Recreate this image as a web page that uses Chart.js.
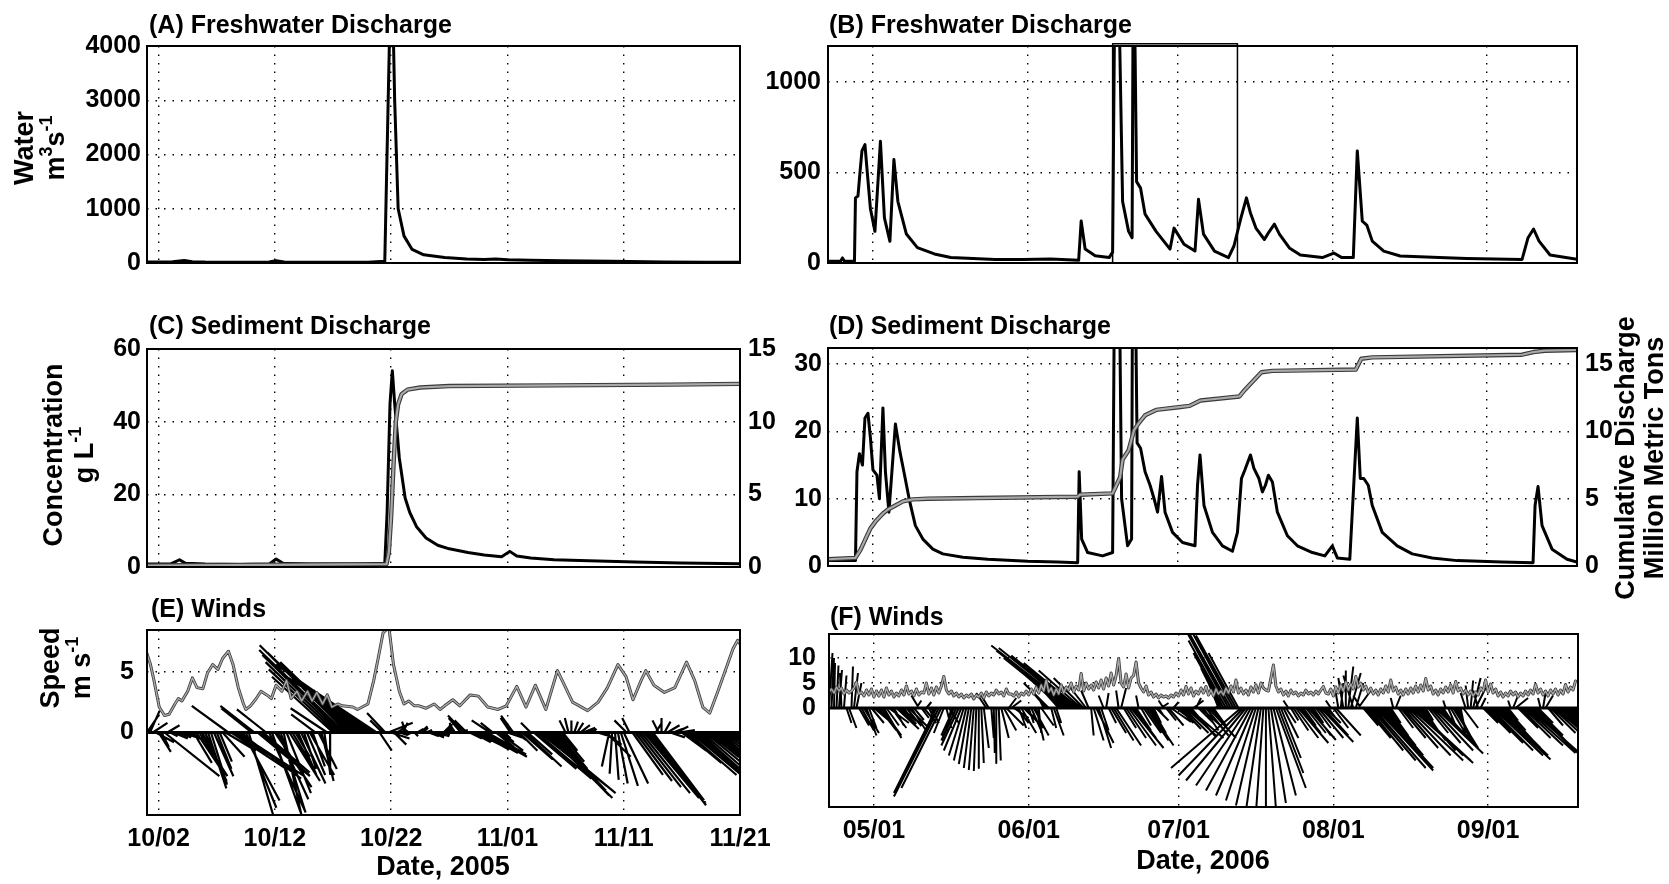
<!DOCTYPE html>
<html>
<head>
<meta charset="utf-8">
<title>Freshwater discharge, sediment discharge and winds</title>
<script src="https://cdn.jsdelivr.net/npm/chart.js@4.4.1/dist/chart.umd.min.js"></script>
<style>
  html, body { margin: 0; padding: 0; background: #fff; }
  #fig { position: relative; width: 1669px; height: 884px; overflow: hidden; background: #fff; }
  #fig canvas { position: absolute; left: 0; top: 0; }
</style>
</head>
<body>
<div id="fig"></div>
<script>
// ---- tick labels ----
const ticks05 = ['10/02', '10/12', '10/22', '11/01', '11/11', '11/21'];
const ticks06 = ['05/01', '06/01', '07/01', '08/01', '09/01'];
const flowTicks05 = [0, 1000, 2000, 3000, 4000];
const flowTicks06 = [0, 500, 1000];
const concTicks05 = [0, 20, 40, 60];
const concTicks06 = [0, 10, 20, 30];
const cumTicks = [0, 5, 10, 15];
const speedTicks05 = [0, 5];
const speedTicks06 = [0, 5, 10];

// x values are days since 2005-10-01 (left column) or 2006-04-22 (right column)

// (A) freshwater discharge 2005, m3/s
const aDay  = [0, 1, 2.2, 3.2, 3.9, 5, 8, 10.5, 11.1, 11.8, 14, 17, 19, 20.45, 20.9, 21.15, 21.3, 21.6, 22.1, 22.8, 23.8, 25.6, 27.5, 29, 30, 31, 33, 35.7, 40, 44.5, 48, 51];
const aFlow = [20, 18, 22, 45, 25, 18, 15, 18, 40, 20, 15, 15, 14, 30, 4600, 4600, 3000, 1000, 500, 250, 150, 100, 75, 65, 75, 60, 50, 40, 30, 20, 15, 12];

// (B) freshwater discharge 2006, m3/s
const bDay  = [0, 2.5, 2.9, 3.3, 5.3, 5.5, 6.0, 6.4, 6.8, 7.4, 7.9, 8.5, 9.4, 10.5, 11.3, 12.4, 13.2, 14.0, 15.7, 17.9, 21.3, 24.6, 33.5, 39, 44.6, 50.2, 50.7, 51.5, 53.5, 56.3, 57.0, 57.4, 58.3, 59.0, 60.2, 60.9, 61.1, 61.4, 61.8, 62.6, 63.5, 65.7, 68.5, 69.3, 71.3, 73.5, 74.2, 75.2, 77.4, 80.2, 81.3, 82.7, 83.8, 84.6, 85.7, 87.4, 88.3, 89.4, 90.4, 92.4, 94.6, 99.0, 101.3, 102.9, 105.2, 106.0, 107.0, 107.9, 109.0, 111.3, 114.6, 122.4, 127.9, 139.0, 140.2, 141.3, 142.4, 144.6, 150];
const bFlow = [10, 10, 28, 10, 10, 360, 370, 500, 620, 655, 490, 300, 175, 673, 250, 120, 572, 340, 160, 85, 50, 30, 20, 20, 22, 15, 232, 77, 40, 30, 60, 1400, 1400, 340, 175, 140, 1400, 1400, 450, 414, 270, 175, 77, 193, 104, 66, 352, 160, 66, 30, 94, 250, 360, 277, 193, 130, 171, 215, 160, 83, 44, 30, 55, 30, 30, 620, 232, 210, 121, 66, 39, 30, 25, 20, 140, 188, 121, 44, 20];
// marked window in (B)
const bWindow = ['06/18', '07/13'];
const bWindowTop = 1212;

// (C) sediment concentration 2005, g/L, and cumulative discharge, Mt
const cDay  = [0, 2.0, 2.8, 3.3, 5, 8, 10.5, 11.1, 11.7, 14, 18, 20.45, 20.65, 20.9, 21.1, 21.3, 21.7, 22.2, 22.6, 23.2, 24, 25, 26, 27.6, 29, 30.5, 31.2, 31.8, 33, 35, 38, 42, 46, 51];
const cConc = [0.8, 0.8, 2.0, 1.0, 0.8, 0.7, 0.8, 2.2, 1.0, 0.8, 0.8, 1.0, 15, 45, 54, 45, 30, 19, 15, 11, 8, 6, 5, 4, 3.3, 2.8, 4.3, 3.0, 2.5, 2.0, 1.7, 1.4, 1.1, 0.9];
const cCumDay = [0, 20.6, 20.8, 21.0, 21.2, 21.4, 21.6, 21.9, 22.4, 23.5, 26, 35, 45, 51];
const cCum    = [0.1, 0.2, 1.0, 3.5, 7.0, 10.0, 11.2, 11.9, 12.2, 12.35, 12.45, 12.5, 12.55, 12.6];

// (D) sediment concentration 2006, g/L, and cumulative discharge, Mt
const dDay  = [0, 5.5, 5.8, 6.3, 6.9, 7.4, 8.0, 8.5, 9.0, 9.8, 10.3, 11.0, 11.5, 12.2, 13.5, 14.4, 15.2, 16.3, 17.5, 19, 21, 23, 27, 32, 40, 46, 50.0, 50.3, 50.8, 52, 55, 57.0, 57.4, 58.3, 58.8, 60.0, 60.8, 61.0, 61.5, 61.9, 62.6, 63.5, 64.5, 65.3, 66.0, 66.8, 67.5, 69, 71, 73.5, 74.0, 74.5, 75.3, 77, 79, 81, 82.0, 82.8, 83.5, 84.6, 85.3, 86.3, 87.0, 87.6, 88.2, 89.0, 90.0, 92, 94, 97, 99.5, 101, 102, 104.5, 106.0, 106.6, 107.3, 108.2, 109, 111, 114, 117, 121, 126, 135, 141.2, 141.6, 142.2, 143.0, 145, 148, 150];
const dConc = [0.8, 0.8, 14, 16.7, 15, 22, 22.7, 19, 14.3, 13.5, 10, 23.5, 14, 8, 21.1, 17, 14, 9.8, 6, 4, 2.5, 1.8, 1.3, 1.0, 0.7, 0.6, 0.5, 14, 4, 2, 1.5, 2, 45, 45, 10, 3, 4, 45, 45, 18.3, 17.5, 14, 12, 10, 8, 13.3, 8, 5, 3.5, 3, 12, 16.5, 9, 5, 3, 2.2, 5, 13, 14.3, 16.5, 14.5, 13, 11, 12, 13.5, 12.5, 8, 4.5, 3, 2, 1.5, 3, 1.2, 1, 22, 13, 13, 12, 9, 5, 3, 1.8, 1.2, 0.8, 0.6, 0.5, 9, 11.8, 6, 2.5, 1, 0.6];
const dCumDay = [0, 5.5, 6.5, 7.5, 8.5, 9.5, 11, 12, 13.5, 15, 17, 20, 30, 50, 50.5, 57, 57.5, 58.5, 59, 60.2, 61.3, 62.2, 63.5, 65.7, 70.2, 72.4, 74.6, 82.4, 83.5, 86.8, 89, 105.7, 106.8, 109, 139, 141.3, 143.5, 150];
const dCum    = [0.5, 0.6, 1.2, 2.0, 2.8, 3.3, 3.9, 4.2, 4.5, 4.8, 4.95, 5.0, 5.05, 5.15, 5.3, 5.4, 5.8, 6.6, 7.9, 8.6, 10.1, 10.6, 11.2, 11.6, 11.8, 11.9, 12.3, 12.6, 13.1, 14.4, 14.5, 14.6, 15.4, 15.5, 15.7, 15.9, 16.0, 16.05];

// (E) wind speed 2005, m/s
const eSpdDay = [0.0, 0.3, 0.6, 1.05, 1.5, 1.9, 2.4, 2.7, 3.0, 3.5, 3.9, 4.3, 4.8, 5.2, 5.65, 6.1, 6.5, 7.0, 7.4, 7.85, 8.3, 8.5, 8.9, 9.4, 9.8, 10.3, 10.7, 11.1, 11.6, 12.0, 12.4, 12.9, 13.3, 13.8, 14.2, 14.6, 15.1, 15.5, 15.9, 16.4, 16.8, 17.7, 18.1, 19.0, 19.5, 19.9, 20.3, 20.8, 21.2, 21.7, 22.1, 22.5, 23.0, 23.4, 24.0, 24.7, 25.2, 25.6, 26.3, 26.9, 27.8, 28.5, 29.3, 30.2, 30.9, 31.8, 32.6, 33.4, 34.3, 35.3, 35.6, 36.6, 37.9, 38.8, 39.6, 40.5, 41.2, 41.8, 42.5, 42.9, 43.6, 44.5, 45.4, 46.4, 47.1, 47.8, 48.4, 49.1, 49.7, 50.4, 50.8, 51.0];
const eSpd    = [6.5, 5.6, 4.3, 2.1, 1.4, 1.5, 2.35, 2.8, 2.6, 3.4, 4.5, 3.7, 3.6, 4.9, 5.6, 5.2, 6.1, 6.7, 5.6, 3.7, 2.35, 1.9, 2.2, 2.8, 3.4, 3.1, 2.8, 3.9, 3.4, 4.3, 2.8, 3.4, 2.6, 3.4, 2.6, 3.3, 2.35, 3.1, 2.1, 2.35, 2.2, 2.1, 1.9, 2.35, 4.3, 6.2, 8.2, 8.7, 5.6, 3.4, 2.35, 2.6, 2.2, 2.2, 2.0, 2.35, 1.9, 2.2, 2.7, 2.2, 3.1, 3.0, 2.1, 1.9, 2.2, 3.8, 2.1, 3.9, 1.9, 5.1, 4.5, 2.5, 1.8, 2.5, 3.7, 5.6, 4.6, 2.7, 4.3, 5.1, 3.9, 3.3, 3.7, 5.8, 4.3, 2.1, 1.6, 3.4, 5.0, 6.9, 7.6, 7.3];

// (E) wind vectors 2005, every 6 h, m/s (east, north)
const windStep05 = 0.25;
const windU05 = [
  1.0, 0.8, 1.2, 1.5, 1.0, 0.6, 4.5, 1.0,
  0.6, 1.2, 0.8, 1.0, 1.5, 1.2, 2.0, 1.0,
  1.5, 2.0, 2.3, 2.0, 1.8, 1.5, 1.3, 1.6,
  1.2, 1.0, 1.8, 2.5, -3.0, 4.5, 5.0, 5.5,
  5.0, 3.0, 2.5, 2.0, -2.5, -2.8, 4.3, 4.0,
  3.8, -2.4, 3.0, 2.5, 3.0, 2.5, 2.0, 1.5,
  2.0, 2.5, 1.8, 1.2, 1.5, 2.0, 1.0, 1.5,
  2.0, 1.0, -2.0, 1.5, 1.0, 0.5, -3.0, 0.0,
  -5.0, -5.5, -6.0, -6.5, -7.0, -7.2, -6.8, -6.0,
  -5.5, -4.8, -4.0, -3.0, -2.5, -7.5, -8.0, -6.0,
  1.0, -1.0, -1.5, 2.0, 1.5, 1.0, 0.5, 0.6,
  0.4, -0.3, -0.6, -0.4, 0.3, 0.5, 0.6, 0.4,
  0.5, 0.8, 1.0, 1.2, 1.0, 0.8, 0.5, 0.3,
  0.2, -0.2, -0.4, 0.8, -1.0, -1.3, -1.0, 1.0,
  1.5, 2.0, 2.5, 3.0, 3.5, 3.2, -1.5, -1.0,
  1.5, 2.0, 1.0, 0.5, 1.2, -0.8, -1.0, 0.8,
  1.5, 2.5, 3.0, 2.0, -0.8, 3.5, 4.5, 5.5,
  6.0, 5.5, 5.0, 4.5, 3.5, 2.5, 2.0, 1.2,
  -0.5, -0.3, 0.0, 0.3, 0.5, 0.8, 1.0, 0.8,
  0.6, 0.4, 0.8, 1.0, 1.2, 1.5, 2.0, -0.6,
  -0.2, 0.3, 0.8, 1.4, 2.0, -1.0, -0.6, 2.5,
  3.0, 3.5, 4.0, 4.5, 4.8, 4.6, 4.2, 0.5,
  -0.5, 0.0, 0.5, 1.0, 1.2, 0.8, 1.0, 1.3,
  2.0, 3.0, 4.0, 5.0, 5.5, 6.0, 5.0, 4.0,
  3.0, 2.5, 3.0, 4.0, 4.5, 5.0, 4.5, 4.0,
  3.5, 3.0, 2.5, 2.0
];
const windV05 = [
  1.5, 1.8, 0.8, -0.8, -1.6, -1.2, -3.6, 0.6,
  -0.3, -0.5, -0.2, -0.4, -0.5, -0.3, -1.0, -0.6,
  -2.5, -3.0, -3.6, -4.0, -4.3, -4.6, -4.2, -3.6,
  -3.0, -2.4, -2.0, -1.5, 2.2, -3.0, -3.2, -3.6,
  -3.8, -5.6, -6.2, -6.8, 2.0, 2.2, -3.6, -3.5,
  -3.3, 1.9, -6.6, -7.0, -4.5, -5.5, -6.5, -7.0,
  -5.0, -4.0, -3.0, -2.0, -3.5, -4.2, -3.0, -3.5,
  -3.5, -2.8, 1.5, -3.0, -4.0, -3.5, 2.0, -3.4,
  4.6, 5.2, 5.8, 6.4, 6.8, 7.2, 6.6, 5.8,
  5.0, 4.2, 3.5, 2.6, 2.0, 5.0, 5.6, 4.0,
  -1.5, 1.0, 1.6, 0.8, -0.5, -1.0, 0.3, -0.2,
  0.8, 0.9, 0.5, -0.2, -0.3, 0.3, 0.5, 0.4,
  0.2, -0.3, -0.4, -0.3, -0.2, 0.2, 0.5, 0.6,
  0.7, 0.8, 0.6, 0.2, 1.2, 1.4, 1.0, -0.5,
  -0.8, -1.0, -1.4, -1.7, -2.0, -1.8, 1.0, 0.8,
  -1.2, -1.5, -0.8, -0.5, -0.4, 1.2, 1.4, -0.6,
  -1.5, -2.2, -2.8, -1.8, 0.8, -3.0, -3.8, -4.4,
  -5.0, -5.4, -5.2, -4.8, -4.0, -3.0, -2.4, -1.5,
  1.0, 1.2, 1.0, 0.9, 0.8, 0.6, 0.4, 0.2,
  0.1, 0.3, -0.1, -0.3, -0.5, -1.0, -2.0, -2.8,
  -3.4, -3.9, -4.2, -4.4, -4.2, 1.0, 1.2, -3.5,
  -4.0, -4.5, -5.0, -5.4, -5.8, -6.0, -5.6, 0.8,
  1.0, 1.2, 0.9, 0.6, -0.4, 0.3, 0.5, 0.2,
  -1.5, -2.5, -3.5, -4.2, -4.8, -5.2, -4.5, -3.5,
  -2.5, -2.0, -2.6, -3.4, -4.0, -4.4, -3.8, -3.2,
  -2.6, -2.2, -1.8, -1.4
];

// (F) wind speed 2006, every 12 h, m/s
const speedStep06 = 0.5;
const fSpd = [
  3.2, 3.8, 3.0, 4.2, 3.4, 4.0, 2.8, 3.6, 3.0, 3.4, 4.0, 5.2, 2.8, 3.2, 2.4, 3.6, 2.6, 3.8, 2.2, 3.4,
  2.4, 3.6, 2.2, 4.0, 2.6, 3.4, 2.2, 3.0, 2.4, 3.6, 2.6, 4.4, 2.8, 3.4, 2.4, 3.8, 2.6, 3.2, 3.0, 5.0,
  2.8, 4.0, 2.6, 4.2, 3.0, 4.4, 6.3, 3.6, 2.8, 3.4, 2.4, 3.0, 2.2, 2.8, 2.0, 2.6, 2.2, 2.8, 1.8, 2.6,
  2.2, 3.0, 2.0, 3.2, 2.4, 3.0, 2.6, 3.6, 2.8, 3.2, 2.4, 3.8, 2.8, 2.8, 2.4, 3.2, 2.2, 3.0, 2.6, 3.4,
  2.6, 3.8, 2.8, 4.2, 3.0, 4.6, 3.4, 5.6, 3.2, 4.0, 2.6, 3.8, 2.8, 4.6, 3.0, 4.2, 3.6, 5.0, 3.2, 4.4,
  3.6, 6.9, 3.4, 5.0, 3.8, 4.6, 3.6, 5.2, 4.0, 5.6, 3.8, 6.0, 4.4, 7.0, 4.6, 6.5, 9.9, 5.0, 4.2, 6.8,
  4.0, 6.0, 6.5, 9.2, 5.0, 4.0, 3.2, 4.4, 2.6, 3.2, 2.2, 2.8, 2.0, 2.6, 2.2, 2.4, 2.0, 2.6, 2.2, 3.0,
  2.4, 3.6, 2.6, 4.3, 2.8, 4.0, 2.4, 3.4, 2.8, 4.0, 3.0, 4.3, 2.6, 3.6, 2.4, 3.8, 2.8, 3.4, 2.6, 4.0,
  3.0, 4.4, 3.2, 5.6, 3.0, 4.0, 2.8, 3.6, 2.6, 4.2, 3.2, 4.6, 3.0, 5.0, 4.0, 3.6, 3.4, 6.0, 8.6, 4.4,
  3.2, 3.8, 2.6, 3.4, 2.4, 3.6, 2.8, 3.2, 2.4, 3.0, 2.6, 3.6, 2.8, 3.2, 2.6, 3.4, 2.8, 3.6, 4.3, 3.0,
  2.8, 3.8, 2.4, 4.2, 3.0, 4.6, 3.4, 5.2, 3.6, 4.8, 3.8, 6.3, 4.2, 5.0, 3.6, 4.4, 3.0, 4.0, 2.8, 3.6,
  2.6, 3.8, 3.0, 4.4, 3.2, 5.6, 3.4, 4.2, 2.8, 3.6, 2.6, 3.8, 2.8, 4.0, 3.0, 4.4, 3.2, 4.6, 3.4, 5.9,
  3.6, 4.4, 2.8, 3.6, 2.6, 3.8, 3.0, 4.2, 3.2, 4.6, 3.0, 5.3, 3.4, 4.0, 2.8, 3.6, 2.6, 3.4, 2.4, 3.2,
  2.6, 4.0, 3.4, 5.6, 3.2, 4.8, 3.0, 3.8, 2.4, 3.2, 2.2, 3.0, 2.4, 3.4, 2.6, 3.2, 2.2, 3.0, 2.4, 3.4,
  2.6, 3.6, 2.8, 4.7, 3.0, 3.8, 2.6, 3.4, 2.4, 3.6, 2.8, 3.8, 2.6, 3.6, 2.8, 4.7, 3.2, 4.2, 3.6, 5.4
];

// (F) wind vectors 2006, every 12 h, m/s (east, north)
const windStep06 = 0.5;
const windU06 = [
  0.7, 0.5, 0.2, 0.4, 0.6, -0.3, 0.5, 1.0, 1.5, 0.3,
  0.8, 1.0, 2.0, 2.5, 3.0, 2.0, 1.5, 2.5, 3.0, 2.0,
  3.5, 4.0, 3.5, 2.5, 4.0, 3.0, 2.0, 4.5, 3.5, 3.0,
  2.0, 3.0, 4.0, 3.0, 2.0, 1.0, -1.5, 1.5, 2.5, 1.0,
  1.0, 1.5, -1.0, -8.5, -9.0, -8.0, -2.0, 1.0, 2.0, -1.0,
  -2.5, -3.0, -3.5, -3.5, -3.0, -2.5, -2.0, -1.5, -1.0, -0.5,
  0.0, 0.5, 1.0, -2.0, -1.5, 0.5, 0.2, 0.0, 0.4, 1.5,
  2.5, 3.5, 1.5, 2.0, 3.0, 2.5, 1.5, 3.0, 4.0, 2.0,
  1.0, 2.0, 3.0, 1.5, 0.5, 2.5, -1.0, -3.0, -5.0, 1.0,
  2.0, 1.0, -4.0, -7.0, -10.0, -12.5, -14.5, -16.0, -15.0, -13.0,
  -11.0, -8.5, -6.0, -3.5, -1.5, 0.5, 2.0, 3.5, 2.5, 1.5,
  -1.0, 0.5, 1.5, 3.0, 4.0, 5.0, -0.5, 1.0, 2.5, 4.0,
  5.5, 6.5, 4.5, 3.0, -0.5, 2.0, 3.5, 4.5, 5.0, 3.0,
  1.5, 2.5, 1.0, 1.5, -1.0, 2.0, 3.0, 4.0, 1.0, 2.0,
  3.0, 4.0, 5.0, 6.0, 7.0, 5.0, 2.0, 1.0, 3.0, 4.0,
  3.0, 4.5, 5.5, 4.0, 2.5, 1.0, -2.0, -4.0, -6.0, -7.5,
  -8.5, -9.5, -9.0, -8.0, -6.0, -14.0, -13.0, -12.0, -10.5, -9.0,
  -7.5, -6.0, -4.5, -3.0, -1.5, 0.0, 1.5, 3.0, 4.5, 6.0,
  5.0, 4.0, 3.0, 2.0, -1.0, 1.5, 3.0, 4.5, 6.0, 4.0,
  2.5, 4.0, 5.5, 4.0, 2.0, 3.0, 5.0, 6.5, 5.0, 3.0,
  1.5, -1.0, 3.0, 5.0, -0.5, 0.5, -1.0, 0.0, 1.0, 2.0,
  -2.0, 1.5, 2.5, -1.5, 3.0, 5.0, 7.0, 9.0, 10.5, 11.5,
  11.0, 9.5, 8.0, 6.0, 4.0, 2.0, -0.5, 1.0, 3.0, 5.0,
  7.0, 9.0, 11.0, 12.5, 11.5, 9.5, 7.5, 5.0, 3.0, 1.5,
  4.0, 6.0, 8.0, 9.5, 8.0, 5.0, 2.0, -0.5, 1.5, 3.5,
  5.0, 4.0, 2.5, 1.0, 3.0, -1.0, -0.5, 0.5, 1.5, 2.0,
  -1.0, 1.0, 3.0, 5.0, 7.0, 8.5, 10.0, 11.0, 10.0, 8.0,
  6.0, 4.0, 2.0, -0.5, 1.0, 2.5, 4.0, 6.0, 8.0, 10.0,
  11.5, 10.0, 8.0, 5.5, 3.0, -0.5, 0.5, 1.5, 3.0, 5.0,
  7.0, 8.5, 9.0, 7.5, 6.0, 8.0, 9.0, 10.0, 8.0, 6.0
];
const windV06 = [
  11.0, 10.0, 9.0, 8.5, 7.6, 7.0, 6.5, -3.0, -4.0, 8.3,
  7.0, 5.0, -3.5, -4.5, -5.0, -5.5, -4.0, -3.0, -2.5, -2.0,
  -4.5, -5.5, -6.0, -3.5, -3.0, -4.0, -3.5, -4.2, -3.2, -2.6,
  -3.0, -3.6, -4.0, -4.6, -2.4, 1.5, 2.5, -2.0, -3.0, 1.2,
  -2.0, -3.0, -3.5, -17.0, -17.7, -16.0, -5.0, -4.0, -3.0, -4.5,
  -5.5, -6.5, -7.5, -8.5, -9.5, -10.5, -11.2, -12.0, -12.4, -12.6,
  -12.0, -11.0, -8.0, 3.0, 2.5, -6.0, -9.0, -11.0, -10.5, -6.0,
  -4.5, -3.5, 2.0, 1.5, -2.0, -3.0, -4.0, -5.0, -4.0, -2.5,
  -3.0, -4.5, -5.5, -6.5, -5.0, -3.5, 2.0, 3.5, 5.0, -4.0,
  -5.5, -3.0, 4.5, 6.5, 8.5, 10.0, 11.5, 12.5, 12.0, 10.5,
  9.0, 7.5, 6.0, 4.5, 3.5, -5.5, -6.5, -7.0, -8.0, -4.5,
  2.5, 3.0, -3.0, -5.0, -6.5, -7.5, 3.5, 4.0, -4.0, -6.0,
  -7.5, -8.0, -6.0, -4.5, 2.5, -3.5, -5.0, -6.5, -7.5, -5.0,
  -3.0, -2.5, -1.5, 1.0, 1.5, -2.5, -3.5, -2.8, 1.2, -1.5,
  -3.0, -4.2, -5.0, -5.5, -6.0, -5.8, 1.5, 2.0, -3.0, -3.6,
  -4.5, -5.5, -6.0, -5.0, -3.5, 2.0, 5.0, 8.0, 11.0, 13.5,
  15.5, 17.0, 16.5, 14.5, 11.0, -12.0, -13.5, -14.5, -15.5, -16.5,
  -17.5, -18.5, -19.5, -20.5, -21.0, -21.0, -20.0, -19.0, -17.5, -16.0,
  -13.0, -10.0, -6.0, -3.0, 1.5, -2.5, -4.5, -6.0, -7.0, -5.0,
  -3.5, -5.0, -6.4, -5.5, -3.0, -4.0, -6.0, -6.8, -5.5, -3.0,
  -2.0, 1.5, -4.0, -5.5, 3.0, 5.0, 6.0, 7.5, 8.3, 7.0,
  6.5, 5.0, 3.5, 2.5, -3.5, -6.0, -8.5, -10.5, -12.0, -12.5,
  -12.0, -11.0, -9.5, -7.5, -5.5, -3.0, 2.0, 2.5, -4.0, -6.0,
  -8.0, -9.5, -10.5, -11.0, -10.5, -9.5, -8.5, -6.5, -4.5, -2.5,
  -5.0, -7.0, -8.5, -9.1, -8.0, -5.5, -3.0, 1.5, -3.5, -6.0,
  -8.0, -7.5, -6.5, -5.0, -4.0, 3.0, 4.5, 5.5, 6.0, 4.0,
  3.5, 2.0, -3.0, -5.0, -7.0, -8.5, -9.5, -10.3, -9.5, -8.0,
  -6.5, -4.5, -2.5, 1.5, 2.5, 2.0, -4.0, -6.0, -7.5, -9.0,
  -10.0, -9.5, -8.0, -5.5, -3.0, 2.0, 3.0, 2.5, -3.5, -5.0,
  -6.5, -7.5, -8.0, -6.5, -5.0, -6.5, -7.0, -7.5, -6.0, -4.5
];

// ---- helpers ----
const W = 1669, H = 884;
const FONT = "'Liberation Sans', Arial, Helvetica, sans-serif";
const start05 = Date.UTC(2005, 9, 1);
const start06 = Date.UTC(2006, 3, 22);
Chart.defaults.font.family = FONT;

function dayOf(label, year, start) {
  const [m, d] = label.split('/').map(Number);
  return (Date.UTC(year, m - 1, d) - start) / 86400000;
}
const tickDays05 = ticks05.map(s => dayOf(s, 2005, start05));
const tickDays06 = ticks06.map(s => dayOf(s, 2006, start06));

function pts(xs, ys) { return xs.map((x, i) => ({ x, y: ys[i] })); }
function regular(ys, step) { return ys.map((y, i) => ({ x: i * step, y })); }
// stick plot: a segment from (t, 0) to (t + u*k, v) for every record
function sticks(u, v, step, k) {
  const out = [];
  u.forEach((uu, i) => {
    const t = i * step;
    out.push({ x: t, y: 0 }, { x: t + uu * k, y: v[i] }, { x: t, y: null });
  });
  return out;
}
function line(data, color, width, extra) {
  return Object.assign({
    type: 'line', data, borderColor: color, borderWidth: width,
    pointRadius: 0, tension: 0, fill: false, spanGaps: false,
    borderJoinStyle: 'round', borderCapStyle: 'round'
  }, extra || {});
}

function drawRich(ctx, tx) {
  const size = tx.size || 27;
  const sup = Math.round(size * 0.68);
  const segs = tx.segs.map(s => typeof s === 'string' ? { t: s } : s);
  ctx.save();
  ctx.translate(tx.x, tx.y);
  if (tx.rot) ctx.rotate(-Math.PI / 2);
  let total = 0;
  segs.forEach(s => {
    ctx.font = `bold ${s.sup ? sup : size}px ${FONT}`;
    s.w = ctx.measureText(s.t).width;
    total += s.w;
  });
  let cx = -total / 2;
  ctx.textAlign = 'left';
  ctx.textBaseline = 'middle';
  ctx.fillStyle = '#000';
  segs.forEach(s => {
    ctx.font = `bold ${s.sup ? sup : size}px ${FONT}`;
    ctx.fillText(s.t, cx, s.sup ? -size * 0.38 : 0);
    cx += s.w;
  });
  ctx.restore();
}

function decor(p) {
  return {
    id: 'decor' + p.id,
    afterDraw(chart) {
      const ctx = chart.ctx, a = chart.chartArea;
      ctx.save();
      ctx.strokeStyle = '#000';
      ctx.lineWidth = 2;
      ctx.strokeRect(a.left, a.top, a.right - a.left, a.bottom - a.top);
      ctx.fillStyle = '#000';
      ctx.font = `bold 25px ${FONT}`;
      ctx.textAlign = 'left';
      ctx.textBaseline = 'alphabetic';
      ctx.fillText(p.title, p.titleAt[0], p.titleAt[1]);
      (p.texts || []).forEach(tx => drawRich(ctx, tx));
      ctx.restore();
    }
  };
}

const TICK_FONT = { family: FONT, size: 25, weight: 'bold' };
const AX = 80, XH = 60;

function axis(o, pos) {
  return {
    type: 'linear', position: pos, min: o.min, max: o.max,
    afterBuildTicks: s => { s.ticks = o.ticks.map(v => ({ value: v })); },
    afterFit: s => { if (pos === 'bottom') s.height = XH; else s.width = AX; },
    ticks: {
      display: o.labels !== false,
      callback: (v, i) => o.labels ? o.labels[i] : String(v),
      font: TICK_FONT, color: '#000', padding: o.pad == null ? 6 : o.pad,
      maxRotation: 0, minRotation: 0, autoSkip: false
    },
    grid: { color: '#000', lineWidth: 1.4, drawTicks: false, drawOnChartArea: o.grid !== false },
    border: { display: false, dash: [1.5, 7] }
  };
}

function build(p) {
  const cv = document.createElement('canvas');
  cv.width = W; cv.height = H;
  document.getElementById('fig').appendChild(cv);
  const [l, t, r, b] = p.box;
  const scales = { x: axis(p.x, 'bottom'), y: axis(p.y, 'left') };
  if (p.y2) scales.y2 = axis(Object.assign({ grid: false }, p.y2), 'right');
  new Chart(cv, {
    type: 'line',
    data: { datasets: p.datasets },
    options: {
      responsive: false, animation: false, devicePixelRatio: 1, events: [],
      layout: { padding: { left: l - AX, top: t, right: W - r - (p.y2 ? AX : 0), bottom: H - b - XH } },
      plugins: { legend: { display: false }, tooltip: { enabled: false } },
      scales
    },
    plugins: [decor(p)]
  });
}

const GRAY_DARK = '#3a3a3a', GRAY_LIGHT = '#a9a9a9';

// (A)
build({
  id: 'A', box: [147, 46, 740, 263], title: '(A) Freshwater Discharge', titleAt: [149, 33],
  x: { min: 0, max: 51, ticks: tickDays05, labels: false },
  y: { min: 0, max: 4000, ticks: flowTicks05, pad: 6 },
  texts: [
    { segs: ['Water'], x: 26, y: 148, rot: true },
    { segs: ['m', { t: '3', sup: 1 }, 's', { t: '-1', sup: 1 }], x: 57, y: 148, rot: true }
  ],
  datasets: [line(pts(aDay, aFlow), '#000', 3)]
});

// (B)
const w0 = dayOf(bWindow[0], 2006, start06), w1 = dayOf(bWindow[1], 2006, start06);
build({
  id: 'B', box: [828, 46, 1577, 263], title: '(B) Freshwater Discharge', titleAt: [829, 33],
  x: { min: 0, max: 150, ticks: tickDays06, labels: false },
  y: { min: 0, max: 1200, ticks: flowTicks06, pad: 7 },
  datasets: [
    line(pts(bDay, bFlow), '#000', 3, { order: 0 }),
    line([{ x: w0, y: 0 }, { x: w0, y: bWindowTop }, { x: w1, y: bWindowTop }, { x: w1, y: 0 }], '#000', 1.5, { order: 1, clip: 6 })
  ]
});

// (C)
build({
  id: 'C', box: [147, 349, 740, 567], title: '(C) Sediment Discharge', titleAt: [149, 334],
  x: { min: 0, max: 51, ticks: tickDays05, labels: false },
  y: { min: 0, max: 60, ticks: concTicks05, pad: 6 },
  y2: { min: 0, max: 15, ticks: cumTicks, pad: 8 },
  texts: [
    { segs: ['Concentration'], x: 55, y: 455, rot: true },
    { segs: ['g L', { t: '-1', sup: 1 }], x: 86, y: 455, rot: true }
  ],
  datasets: [
    line(pts(cCumDay, cCum), GRAY_LIGHT, 2.2, { yAxisID: 'y2', order: 0 }),
    line(pts(cCumDay, cCum), GRAY_DARK, 4.4, { yAxisID: 'y2', order: 1 }),
    line(pts(cDay, cConc), '#000', 3, { order: 2 })
  ]
});

// (D)
build({
  id: 'D', box: [828, 348, 1577, 566], title: '(D) Sediment Discharge', titleAt: [829, 334],
  x: { min: 0, max: 150, ticks: tickDays06, labels: false },
  y: { min: 0, max: 32.4, ticks: concTicks06, pad: 6 },
  y2: { min: 0, max: 16.2, ticks: cumTicks, pad: 8 },
  texts: [
    { segs: ['Cumulative Discharge'], x: 1627, y: 458, rot: true },
    { segs: ['Million Metric Tons'], x: 1656, y: 458, rot: true }
  ],
  datasets: [
    line(pts(dCumDay, dCum), GRAY_LIGHT, 2.2, { yAxisID: 'y2', order: 0 }),
    line(pts(dCumDay, dCum), GRAY_DARK, 4.4, { yAxisID: 'y2', order: 1 }),
    line(pts(dDay, dConc), '#000', 3, { order: 2 })
  ]
});

// (E)
build({
  id: 'E', box: [147, 630, 740, 815], title: '(E) Winds', titleAt: [151, 617],
  x: { min: 0, max: 51, ticks: tickDays05, labels: ticks05, pad: 9 },
  y: { min: -6.8, max: 8.45, ticks: speedTicks05, pad: 13 },
  texts: [
    { segs: ['Speed'], x: 52, y: 668, rot: true },
    { segs: ['m s', { t: '-1', sup: 1 }], x: 83, y: 668, rot: true },
    { segs: ['Date, 2005'], x: 443, y: 868 }
  ],
  datasets: [
    line(pts(eSpdDay, eSpd), GRAY_LIGHT, 1.4, { order: 0 }),
    line(pts(eSpdDay, eSpd), GRAY_DARK, 3.0, { order: 1 }),
    line([{ x: 0, y: 0 }, { x: 51, y: 0 }], '#000', 3, { order: 2 }),
    line(sticks(windU05, windV05, windStep05, 1.05), '#000', 2.2, { order: 3, borderCapStyle: 'butt' })
  ]
});

// (F)
build({
  id: 'F', box: [829, 634, 1578, 807], title: '(F) Winds', titleAt: [830, 625],
  x: { min: 0, max: 150, ticks: tickDays06, labels: ticks06, pad: 9 },
  y: { min: -19.8, max: 14.8, ticks: speedTicks06, pad: 13 },
  texts: [
    { segs: ['Date, 2006'], x: 1203, y: 862 }
  ],
  datasets: [
    line(regular(fSpd, speedStep06), GRAY_LIGHT, 1.4, { order: 0 }),
    line(regular(fSpd, speedStep06), GRAY_DARK, 3.0, { order: 1 }),
    line([{ x: 0, y: 0 }, { x: 150, y: 0 }], '#000', 3, { order: 2 }),
    line(sticks(windU06, windV06, windStep06, 1.0), '#000', 2.0, { order: 3, borderCapStyle: 'butt' })
  ]
});
</script>
</body>
</html>
